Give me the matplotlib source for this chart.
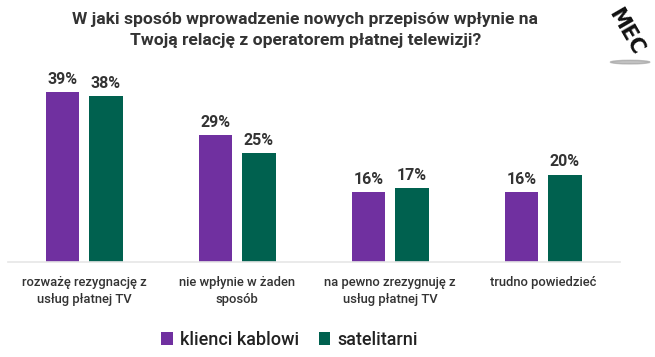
import matplotlib.pyplot as plt
import numpy as np

categories = ['rozważę rezygnację z\nusług płatnej TV', 'nie wpłynie w żaden\nsposób',
              'na pewno zrezygnuję z\nusług płatnej TV', 'trudno powiedzieć']
kablowi = [39, 29, 16, 16]
satelitarni = [38, 25, 17, 20]
series_names = ['klienci kablowi', 'satelitarni']
colors = ['#7030A0', '#00614F']

plt.rcParams['font.family'] = ['Roboto', 'DejaVu Sans']

fig = plt.figure(figsize=(6.55, 3.57), dpi=100)
ax = fig.add_axes([0.012, 0.266, 0.934, 0.538])

x = np.arange(len(categories))
w = 0.22
off = 0.142
b1 = ax.bar(x - off, kablowi, w, color=colors[0], label=series_names[0])
b2 = ax.bar(x + off, satelitarni, w, color=colors[1], label=series_names[1])
for bars in (b1, b2):
    for b in bars:
        ax.text(b.get_x() + b.get_width() / 2, b.get_height() + 1.2, '%d%%' % b.get_height(),
                ha='center', va='bottom', fontsize=11.5, fontweight='bold', color='#333333')

ax.set_xlim(-0.5, len(categories) - 0.5)
ax.set_ylim(0, 44)
ax.set_yticks([])
ax.set_xticks(x)
ax.set_xticklabels(categories, fontsize=9.4, color='#333333', linespacing=1.4, fontweight='medium')
ax.tick_params(axis='x', length=0, pad=10)
for s in ['top', 'right', 'left']:
    ax.spines[s].set_visible(False)
ax.spines['bottom'].set_color('#e6e6e6')
ax.spines['bottom'].set_linewidth(1.2)

fig.text(0.466, 0.965, 'W jaki sposób wprowadzenie nowych przepisów wpłynie na\nTwoją relację z operatorem płatnej telewizji?',
         ha='center', va='top', fontsize=12.6, fontweight='bold', color='#333333', linespacing=1.45)

leg = fig.legend(loc='center', bbox_to_anchor=(0.442, 0.048), ncol=2, frameon=False,
                 prop={'size': 13, 'weight': 'medium'}, handlelength=0.65, handleheight=0.65,
                 handletextpad=0.4, columnspacing=1.1)
for t in leg.get_texts():
    t.set_color('#222222')

# logo
fig.text(0.955, 0.91, 'MEC', rotation=-60, ha='center', va='center', fontsize=15,
         fontweight='bold', color='#111111', family='DejaVu Sans')
fig.patches.append(plt.matplotlib.patches.Ellipse((0.962, 0.826), 0.06, 0.01,
                                                  transform=fig.transFigure, color='#9a9a9a', alpha=0.6))

fig.savefig('out.png', dpi=100)
